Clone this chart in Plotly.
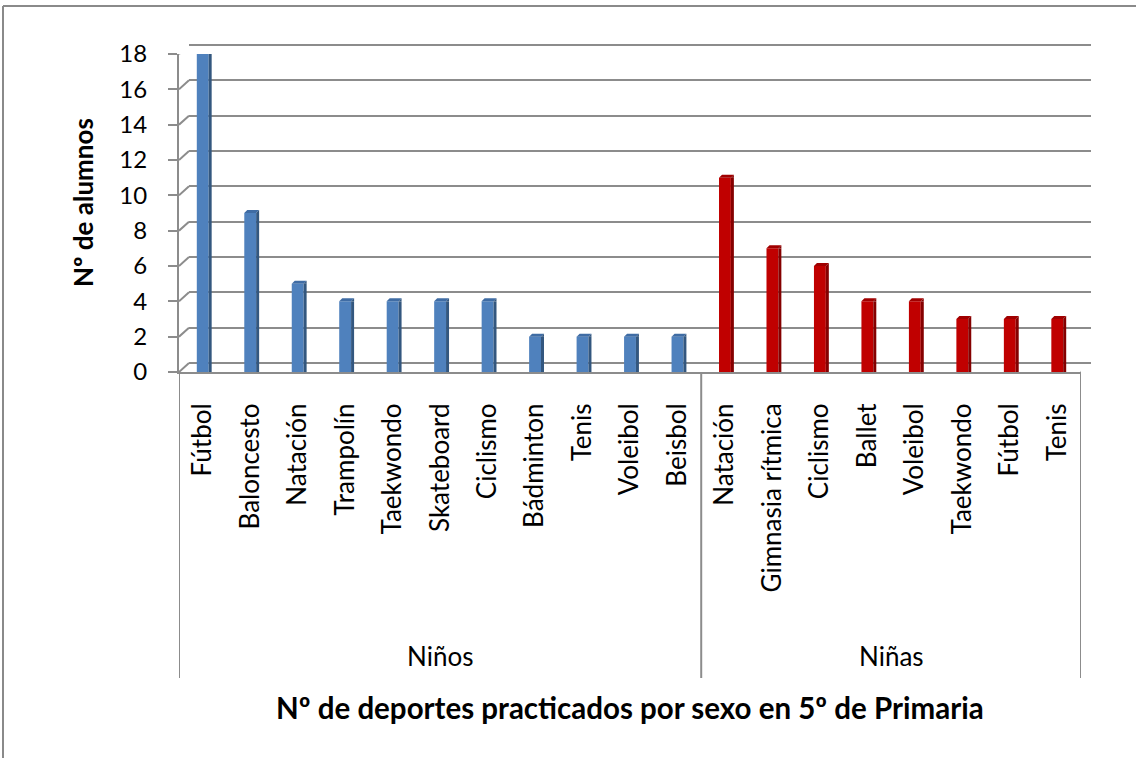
import plotly.graph_objects as go

# Sports practised by 5th-grade pupils, split by sex
boys_sports = ["Fútbol", "Baloncesto", "Natación", "Trampolín", "Taekwondo",
               "Skateboard", "Ciclismo", "Bádminton", "Tenis", "Voleibol", "Beisbol"]
boys_counts = [18, 9, 5, 4, 4, 4, 4, 2, 2, 2, 2]
girls_sports = ["Natación", "Gimnasia rítmica", "Ciclismo", "Ballet", "Voleibol",
                "Taekwondo", "Fútbol", "Tenis"]
girls_counts = [11, 7, 6, 4, 4, 3, 3, 3]
groups = ["Niños", "Niñas"]
y_ticks = list(range(0, 19, 2))
Y_MAX = 18

# ---- layout geometry (pixels) ----
W, H = 1136, 758
PAD = 2                 # room so the edge grid lines of the back wall are kept
L, R, T, B = 179, 45, 45 - PAD, 386
PW, PH = W - L - R, H - T - B
DX, DY = 10, 9          # depth of the back wall
D = 3                   # depth of each column
BAR_W = 0.25            # column width in category units

front_h = PH - DY - PAD
px_per_unit = front_h / Y_MAX
pad_units = PAD / px_per_unit

n_cat = len(boys_sports) + len(girls_sports)
cat_px = (PW - DX) / n_cat
hw = BAR_W * cat_px / 2

FONT = "Lato"
GRID = "#8c8c8c"

x_boys = list(range(len(boys_sports)))
x_girls = list(range(len(boys_sports), n_cat))
all_sports = boys_sports + girls_sports

styles = {
    "boys": dict(front="#4F81BD", side="#33577F", top="#3F6CA4"),
    "girls": dict(front="#C00000", side="#850000", top="#A00000"),
}

fig = go.Figure()

# back wall: only grid lines, drawn first so columns sit in front
fig.add_trace(go.Scatter(x=[None], y=[None], xaxis="x", yaxis="y",
                         showlegend=False, hoverinfo="skip"))

shapes = []
for xs, vals, key in [(x_boys, boys_counts, "boys"), (x_girls, girls_counts, "girls")]:
    st = styles[key]
    # front face of each column
    fig.add_trace(go.Bar(x=xs, y=vals, width=BAR_W, offset=-BAR_W / 2,
                         marker=dict(color=st["front"], line=dict(width=0)),
                         xaxis="x2", yaxis="y2", showlegend=False))
    # right-hand side face
    fig.add_trace(go.Bar(x=xs, y=vals, width=D / cat_px, offset=BAR_W / 2,
                         marker=dict(color=st["side"], line=dict(width=0)),
                         xaxis="x2", yaxis="y2", showlegend=False))
    for xi, v in zip(xs, vals):
        shapes.append(dict(type="path", xref="x2", yref="y2",
                           xsizemode="pixel", ysizemode="pixel",
                           xanchor=xi, yanchor=v,
                           path=f"M {-hw},0 L {-hw + D},{D} L {hw + D},{D} L {hw},0 Z",
                           fillcolor=st["top"], line=dict(width=0), layer="above"))
        shapes.append(dict(type="path", xref="x2", yref="y2",
                           xsizemode="pixel", ysizemode="pixel",
                           xanchor=xi, yanchor=v,
                           path=f"M {hw},0 L {hw + D},{D} L {hw + D},0 Z",
                           fillcolor=st["side"], line=dict(width=0), layer="above"))

# left wall edges joining front ticks to back grid lines
for v in y_ticks:
    shapes.append(dict(type="line", xref="x2", yref="y2",
                       xsizemode="pixel", ysizemode="pixel",
                       xanchor=-0.5, yanchor=v, x0=0, x1=DX, y0=0, y1=DY,
                       line=dict(color=GRID, width=2), layer="below"))
# right floor edge
shapes.append(dict(type="line", xref="x2", yref="y2",
                   xsizemode="pixel", ysizemode="pixel",
                   xanchor=n_cat - 0.5, yanchor=0, x0=0, x1=DX, y0=0, y1=DY,
                   line=dict(color=GRID, width=2), layer="below"))

# helpers for pixel placement of frame and titles
def px_x(p):
    return (p - L) / PW

def px_y(p):
    return (H - B - p) / PH

# group dividers below the category axis
for xb in [-0.5, len(boys_sports) - 0.5, n_cat - 0.5]:
    shapes.append(dict(type="line", xref="x2", yref="paper",
                       x0=xb, x1=xb, y0=0, y1=px_y(678),
                       line=dict(color=GRID, width=2)))

# outer chart frame (top and left edges)
shapes.append(dict(type="line", xref="paper", yref="paper",
                   x0=px_x(3), x1=px_x(W + 5), y0=px_y(6), y1=px_y(6),
                   line=dict(color="#8a8a8a", width=2)))
shapes.append(dict(type="line", xref="paper", yref="paper",
                   x0=px_x(3), x1=px_x(3), y0=px_y(6), y1=px_y(H + 5),
                   line=dict(color="#8a8a8a", width=2)))

centred = dict(xanchor="center", yanchor="middle", showarrow=False)
annotations = [
    dict(text="<b>Nº de alumnos</b>", xref="paper", yref="paper",
         x=px_x(83), y=px_y(203), textangle=-90,
         font=dict(family=FONT, size=26, color="#000"), **centred),
    dict(text="<b>Nº de deportes practicados por sexo en 5º de Primaria</b>",
         xref="paper", yref="paper", x=px_x(630), y=px_y(707),
         font=dict(family=FONT, size=29.5, color="#000"), **centred),
    dict(text=groups[0], xref="x2", yref="paper",
         x=(x_boys[0] + x_boys[-1]) / 2, y=px_y(656),
         font=dict(family=FONT, size=26, color="#000"), **centred),
    dict(text=groups[1], xref="x2", yref="paper",
         x=(x_girls[0] + x_girls[-1]) / 2, y=px_y(656),
         font=dict(family=FONT, size=26, color="#000"), **centred),
]

fig.update_layout(
    width=W, height=H,
    margin=dict(l=L, r=R, t=T, b=B),
    paper_bgcolor="white", plot_bgcolor="rgba(0,0,0,0)",
    barmode="overlay", showlegend=False,
    font=dict(family=FONT, color="#000"),
    xaxis=dict(domain=[DX / PW, 1], anchor="y", range=[-0.5, n_cat - 0.5],
               showgrid=False, zeroline=False, showticklabels=False, showline=False),
    yaxis=dict(domain=[(DY - PAD) / PH, 1], anchor="x",
               range=[-pad_units, Y_MAX + pad_units],
               tickvals=y_ticks, showgrid=True, gridcolor=GRID, gridwidth=2,
               zeroline=False, showticklabels=False, showline=False, ticks=""),
    xaxis2=dict(domain=[0, (PW - DX) / PW], anchor="y2", range=[-0.5, n_cat - 0.5],
                tickvals=list(range(n_cat)), ticktext=all_sports, tickangle=-90,
                showgrid=False, zeroline=False, showline=True, linecolor=GRID,
                linewidth=2, ticks="", ticklabelstandoff=19,
                tickfont=dict(family=FONT, size=26, color="#000")),
    yaxis2=dict(domain=[0, front_h / PH], anchor="x2", range=[0, Y_MAX],
                tickvals=y_ticks, showgrid=False, zeroline=False, showline=True,
                linecolor=GRID, linewidth=2, ticks="outside", ticklen=9,
                tickwidth=2, tickcolor=GRID, ticklabelstandoff=16,
                tickfont=dict(family=FONT, size=24, color="#000")),
    shapes=shapes,
    annotations=annotations,
)

fig.write_html("out.html")
